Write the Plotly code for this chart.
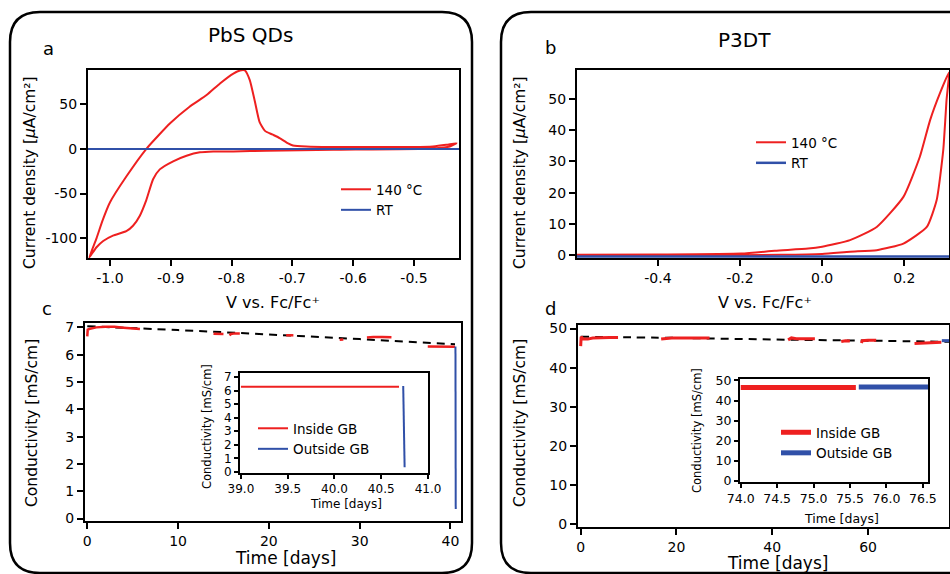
import plotly.graph_objects as go

W, H = 950, 574
FONT = "DejaVu Sans"
RED = "#ee2020"
BLUE = "#3050a8"

# ---------------- data ----------------
# Panel a: PbS QDs cyclic voltammetry
a_v_140 = [-1.034, -1.022, -1.012, -1.0, -0.973, -0.940, -0.901, -0.869, -0.841, -0.819,
           -0.797, -0.786, -0.778, -0.770, -0.762, -0.754, -0.745, -0.733, -0.721, -0.707,
           -0.699, -0.677, -0.578, -0.469, -0.447, -0.430, -0.441, -0.469, -0.633, -0.743,
           -0.797, -0.830, -0.852, -0.874, -0.896, -0.918, -0.929, -0.940, -0.951, -0.962,
           -0.973, -0.995, -1.011, -1.022, -1.034]
a_j_140 = [-121.5, -100, -80, -60, -31, 0, 28.5, 47, 60, 73,
           84, 87.5, 87.5, 76.7, 54, 30, 20, 16, 12, 6,
           3.7, 2.6, 1.9, 2.6, 4.4, 6.3, 2.6, 0.4, -1.1, -2.2,
           -3, -3, -4, -7.8, -14, -23, -34, -57, -75, -86,
           -92, -97, -103, -110, -121.5]
a_v_rt = [-1.036, -0.426]
a_j_rt = [-0.3, -0.3]

# Panel b: P3DT cyclic voltammetry
b_v_140 = [-0.597, -0.4, -0.197, -0.115, -0.034, 0.0, 0.068, 0.133, 0.198, 0.238,
           0.263, 0.287, 0.309, 0.303, 0.295, 0.279, 0.255, 0.198, 0.133, 0.068,
           0.0, -0.1, -0.36, -0.597]
b_j_140 = [0.2, 0.3, 0.6, 1.5, 2.2, 2.8, 4.9, 9.1, 18.7, 31.5,
           43.2, 51.8, 58.4, 49.6, 33.6, 17.7, 9.1, 3.8, 1.7, 1.2,
           0.5, 0.2, 0.0, 0.0]
b_v_rt = [-0.597, 0.309]
b_j_rt = [-0.3, -0.3]

# Panel c: PbS QDs conductivity vs time
c_days_in = [0, 0.05, 0.3, 1, 2, 3, 4, 5, 5.8, None,
             13.9, 14.5, 15.0, None, 15.7, 15.8, 16.3, 16.8, None,
             21.9, 22.7, None, 27.8, 28.2, None,
             30.8, 31.5, 32.5, 33.5, None, 37.5, 38.5, 39.5, 40.5]
c_cond_in = [6.67, 6.92, 6.95, 7.0, 7.02, 7.02, 6.99, 6.97, 6.94, None,
             6.77, 6.77, 6.76, None, 6.70, 6.76, 6.78, 6.78, None,
             6.71, 6.71, None, 6.55, 6.56, None,
             6.63, 6.65, 6.65, 6.64, None, 6.30, 6.30, 6.29, 6.29]
c_days_out = [40.55, 40.58]
c_cond_out = [6.30, 0.35]
c_days_fit = [0, 10, 20, 30, 40.5]
c_cond_fit = [7.04, 6.90, 6.74, 6.57, 6.38]

# Panel c inset
ci_days_in = [39.0, 39.5, 40.0, 40.69]
ci_cond_in = [6.28, 6.28, 6.27, 6.28]
ci_days_out = [40.735, 40.75]
ci_cond_out = [6.33, 0.35]

# Panel d: P3DT conductivity vs time
d_days_in = [0, 0.1, 0.5, 1.5, 2.5, 4, 6, 7.8, None,
             16.8, 19, 22, 25, 26.9, None,
             43.3, 44, 45, 47, 48.9, None,
             54.4, 55.3, 56.2, None, 58.6, 58.8, 60, 61.7, None,
             69.7, 71, 73, 75.3]
d_cond_in = [45.5, 47.9, 47.4, 47.3, 47.6, 47.7, 47.7, 47.7, None,
             47.3, 47.6, 47.6, 47.6, 47.6, None,
             47.1, 47.6, 47.4, 47.4, 47.4, None,
             46.7, 46.9, 46.8, None, 46.3, 46.9, 47.0, 47.0, None,
             46.2, 46.3, 46.4, 46.5]
d_days_out = [75.4, 76.9]
d_cond_out = [46.9, 46.9]
d_days_fit = [0, 20, 40, 60, 76.9]
d_cond_fit = [47.9, 47.6, 47.2, 46.9, 46.6]

# Panel d inset
di_days_in = [74.0, 75.58]
di_cond_in = [46.5, 46.5]
di_days_out = [75.62, 76.57]
di_cond_out = [46.7, 46.7]

# tick labels
a_xticks = [-1.0, -0.9, -0.8, -0.7, -0.6, -0.5]
a_xtext = ["-1.0", "-0.9", "-0.8", "-0.7", "-0.6", "-0.5"]
a_yticks = [-100, -50, 0, 50]
a_ytext = ["-100", "-50", "0", "50"]
b_xticks = [-0.4, -0.2, 0.0, 0.2]
b_xtext = ["-0.4", "-0.2", "0.0", "0.2"]
b_yticks = [0, 10, 20, 30, 40, 50]
c_xticks = [0, 10, 20, 30, 40]
c_yticks = [0, 1, 2, 3, 4, 5, 6, 7]
d_xticks = [0, 20, 40, 60]
d_yticks = [0, 10, 20, 30, 40, 50]
ci_xticks = [39.0, 39.5, 40.0, 40.5, 41.0]
ci_xtext = ["39.0", "39.5", "40.0", "40.5", "41.0"]
di_xticks = [74.0, 74.5, 75.0, 75.5, 76.0, 76.5]
di_xtext = ["74.0", "74.5", "75.0", "75.5", "76.0", "76.5"]


def fx(px):
    return px / W


def fy(py):
    return 1 - py / H


fig = go.Figure()

# panel a
fig.add_trace(go.Scatter(x=a_v_140, y=a_j_140, mode="lines", name="140 °C",
                         line=dict(color=RED, width=2, shape="spline", smoothing=0.5),
                         xaxis="x", yaxis="y", legend="legend"))
fig.add_trace(go.Scatter(x=a_v_rt, y=a_j_rt, mode="lines", name="RT",
                         line=dict(color=BLUE, width=2), xaxis="x", yaxis="y", legend="legend"))
# panel b
fig.add_trace(go.Scatter(x=b_v_140, y=b_j_140, mode="lines", name="140 °C",
                         line=dict(color=RED, width=2, shape="spline", smoothing=0.5),
                         xaxis="x2", yaxis="y2", legend="legend2"))
fig.add_trace(go.Scatter(x=b_v_rt, y=b_j_rt, mode="lines", name="RT",
                         line=dict(color=BLUE, width=2.5), xaxis="x2", yaxis="y2", legend="legend2"))
# panel c
fig.add_trace(go.Scatter(x=c_days_fit, y=c_cond_fit, mode="lines", showlegend=False,
                         line=dict(color="black", width=2, dash="8px,6px", shape="spline"),
                         xaxis="x3", yaxis="y3"))
fig.add_trace(go.Scatter(x=c_days_in, y=c_cond_in, mode="lines", showlegend=False,
                         line=dict(color=RED, width=2.5), xaxis="x3", yaxis="y3"))
fig.add_trace(go.Scatter(x=c_days_out, y=c_cond_out, mode="lines", showlegend=False,
                         line=dict(color=BLUE, width=2), xaxis="x3", yaxis="y3"))
# panel d
fig.add_trace(go.Scatter(x=d_days_fit, y=d_cond_fit, mode="lines", showlegend=False,
                         line=dict(color="black", width=2, dash="8px,6px", shape="spline"),
                         xaxis="x4", yaxis="y4"))
fig.add_trace(go.Scatter(x=d_days_in, y=d_cond_in, mode="lines", showlegend=False,
                         line=dict(color=RED, width=3), xaxis="x4", yaxis="y4"))
fig.add_trace(go.Scatter(x=d_days_out, y=d_cond_out, mode="lines", showlegend=False,
                         line=dict(color=BLUE, width=3), xaxis="x4", yaxis="y4"))
# inset c
fig.add_trace(go.Scatter(x=ci_days_in, y=ci_cond_in, mode="lines", name="Inside GB",
                         line=dict(color=RED, width=2), xaxis="x5", yaxis="y5", legend="legend3"))
fig.add_trace(go.Scatter(x=ci_days_out, y=ci_cond_out, mode="lines", name="Outside GB",
                         line=dict(color=BLUE, width=2), xaxis="x5", yaxis="y5", legend="legend3"))
# inset d
fig.add_trace(go.Scatter(x=di_days_in, y=di_cond_in, mode="lines", name="Inside GB",
                         line=dict(color=RED, width=5), xaxis="x6", yaxis="y6", legend="legend4"))
fig.add_trace(go.Scatter(x=di_days_out, y=di_cond_out, mode="lines", name="Outside GB",
                         line=dict(color=BLUE, width=5), xaxis="x6", yaxis="y6", legend="legend4"))


def ax(dom, rng, tickvals, ticktext=None, fs=14, anchor=None, lw=2):
    d = dict(domain=dom, range=rng, tickvals=tickvals, showgrid=False, zeroline=False,
             showline=True, mirror=True, linecolor="black", linewidth=lw, automargin=False,
             ticks="outside", ticklen=6, tickwidth=1.5, tickcolor="black",
             tickfont=dict(family=FONT, size=fs, color="black"), anchor=anchor)
    if ticktext is not None:
        d["ticktext"] = ticktext
    return d


ca = dict(x=[88, 459], y=[70, 258])
cb = dict(x=[577, 949], y=[70, 258])
cc = dict(x=[85, 461], y=[323, 521])
cd = dict(x=[578, 949], y=[325, 527])
ci = dict(x=[240, 428], y=[373, 473])
cdi = dict(x=[740, 928], y=[379, 482])


def xd(c):
    return [fx(c["x"][0]), min(1.0, fx(c["x"][1]))]


def yd(c):
    return [fy(c["y"][1]), fy(c["y"][0])]


layout = dict(
    width=W, height=H, margin=dict(l=0, r=0, t=0, b=0, autoexpand=False),
    paper_bgcolor="white", plot_bgcolor="white",
    font=dict(family=FONT, color="black"),
    xaxis=ax(xd(ca), [-1.036, -0.426], a_xticks, a_xtext, anchor="y"),
    yaxis=ax(yd(ca), [-122, 88], a_yticks, a_ytext, anchor="x"),
    xaxis2=ax(xd(cb), [-0.597, 0.309], b_xticks, b_xtext, anchor="y2"),
    yaxis2=ax(yd(cb), [-0.8, 59.2], b_yticks, anchor="x2"),
    xaxis3=ax(xd(cc), [-0.25, 41.16], c_xticks, anchor="y3"),
    yaxis3=ax(yd(cc), [-0.09, 7.16], c_yticks, anchor="x3"),
    xaxis4=ax(xd(cd), [-0.56, 76.9], d_xticks, anchor="y4"),
    yaxis4=ax(yd(cd), [-0.7, 50.9], d_yticks, anchor="x4"),
    xaxis5=ax(xd(ci), [38.99, 41.0], ci_xticks, ci_xtext, fs=12, anchor="y5"),
    yaxis5=ax(yd(ci), [-0.07, 7.29], c_yticks, fs=12, anchor="x5"),
    xaxis6=ax(xd(cdi), [73.99, 76.57], di_xticks, di_xtext, fs=12.5, anchor="y6"),
    yaxis6=ax(yd(cdi), [-0.5, 50.7], d_yticks, fs=12.5, anchor="x6"),
)
for k in ["xaxis5", "yaxis5", "xaxis6", "yaxis6"]:
    layout[k]["ticklen"] = 4


def leg(px, py, fs):
    return dict(x=fx(px), y=fy(py), xanchor="left", yanchor="top",
                bgcolor="rgba(0,0,0,0)", borderwidth=0,
                font=dict(family=FONT, size=fs, color="black"),
                tracegroupgap=0, itemwidth=30)


layout["legend"] = leg(336, 174, 13.5)
layout["legend2"] = leg(751, 127, 13.5)
layout["legend3"] = leg(253, 413, 13.5)
layout["legend4"] = leg(776, 417, 13.5)


def ann(text, px, py, fs, angle=0):
    return dict(text=text, x=fx(px), y=fy(py), xref="paper", yref="paper",
                showarrow=False, textangle=angle, xanchor="center", yanchor="middle",
                font=dict(family=FONT, size=fs, color="black"))


annotations = [
    ann("PbS QDs", 250, 35, 20),
    ann("P3DT", 744, 40, 20),
    ann("a", 48, 49, 18),
    ann("b", 550, 48, 18),
    ann("c", 47, 308, 18),
    ann("d", 550, 308, 18),
    ann("V vs. Fc/Fc⁺", 273, 302, 16),
    ann("V vs. Fc/Fc⁺", 765, 302, 16),
    ann("Current density [<i>μ</i>A/cm²]", 30, 173, 15.5, -90),
    ann("Current density [<i>μ</i>A/cm²]", 520, 173, 15.5, -90),
    ann("Conductivity [mS/cm]", 32, 423, 15.5, -90),
    ann("Conductivity [mS/cm]", 520, 423, 15.5, -90),
    ann("Time [days]", 285, 558, 17),
    ann("Time [days]", 777, 563, 17),
    ann("Conductivity [mS/cm]", 207, 427, 11.5, -90),
    ann("Time [days]", 346, 504, 12),
    ann("Conductivity [mS/cm]", 697, 431, 11.5, -90),
    ann("Time [days]", 841, 518, 12.5),
]
layout["annotations"] = annotations


def rounded_box(x0, y0, x1, y1, r):
    p = []
    p.append(f"M{fx(x0 + r)},{fy(y0)}")
    p.append(f"L{fx(x1 - r)},{fy(y0)}")
    p.append(f"Q{fx(x1)},{fy(y0)} {fx(x1)},{fy(y0 + r)}")
    p.append(f"L{fx(x1)},{fy(y1 - r)}")
    p.append(f"Q{fx(x1)},{fy(y1)} {fx(x1 - r)},{fy(y1)}")
    p.append(f"L{fx(x0 + r)},{fy(y1)}")
    p.append(f"Q{fx(x0)},{fy(y1)} {fx(x0)},{fy(y1 - r)}")
    p.append(f"L{fx(x0)},{fy(y0 + r)}")
    p.append(f"Q{fx(x0)},{fy(y0)} {fx(x0 + r)},{fy(y0)}")
    p.append("Z")
    return " ".join(p)


layout["shapes"] = [
    dict(type="path", xref="paper", yref="paper", path=rounded_box(10, 12, 472, 573, 30),
         line=dict(color="black", width=2.5), layer="below"),
    dict(type="path", xref="paper", yref="paper", path=rounded_box(501, 12, 1000, 573, 30),
         line=dict(color="black", width=2.5), layer="below"),
]

fig.update_layout(**layout)
# remove the default 8 px page margin so the 950x574 figure fills the window exactly
fig.write_html("out.html", config={"displayModeBar": False},
               post_script="document.body.style.margin='0px';document.body.style.overflow='hidden';")
